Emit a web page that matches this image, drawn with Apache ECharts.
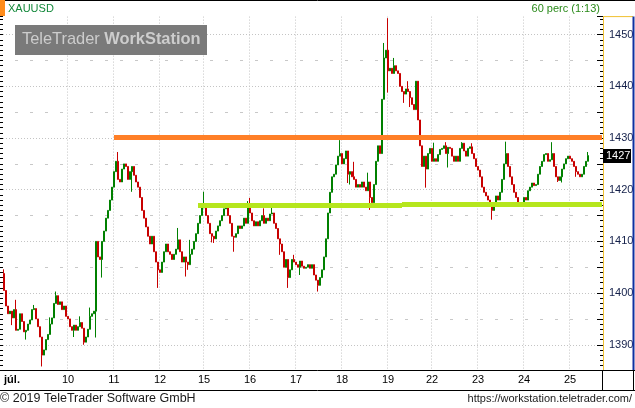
<!DOCTYPE html>
<html><head><meta charset="utf-8">
<script src="https://cdn.jsdelivr.net/npm/echarts@6/dist/echarts.min.js"></script>
<style>html,body{margin:0;padding:0;background:#fff;}#c{width:635px;height:408px;}</style>
</head><body><div id="c"></div>
<script>
// ---- data (XAUUSD, 60-minute candles) ----
const symbolName = 'XAUUSD';
const periodText = '60 perc (1:13)';
const firstOpen = 1403.8;
const closes = [
1400.5,1397.5,1396.0,1396.5,1395.2,1396.8,1392.8,1393.0,1396.0,1394.5,
1392.5,1392.8,1394.0,1394.8,1396.8,1397.0,1395.0,1393.5,1391.5,1388.0,
1389.0,1391.0,1392.0,1394.0,1395.2,1398.0,1399.5,1397.8,1398.3,1396.8,
1397.5,1395.5,1395.0,1393.5,1392.8,1393.8,1392.8,1393.5,1394.3,1393.2,
1390.5,1391.5,1393.0,1395.5,1396.0,1396.5,1410.0,1407.0,1406.5,1410.0,
1412.0,1414.5,1416.0,1418.0,1420.5,1423.5,1425.5,1422.0,1421.5,1424.0,
1425.0,1424.5,1422.0,1423.5,1424.5,1422.8,1421.5,1420.5,1418.5,1416.0,
1414.5,1412.8,1411.0,1409.5,1411.0,1408.0,1406.0,1404.5,1404.0,1406.0,
1408.0,1409.5,1408.0,1407.5,1406.5,1407.5,1408.5,1410.3,1408.0,1406.0,
1407.0,1406.0,1405.5,1407.5,1408.5,1410.0,1411.5,1413.5,1415.0,1416.5,
1417.0,1415.0,1413.5,1411.5,1411.0,1410.5,1412.0,1413.0,1414.0,1415.0,
1416.3,1416.8,1415.0,1413.5,1411.0,1410.8,1411.5,1413.0,1412.5,1413.0,
1414.5,1413.5,1416.5,1415.5,1414.0,1413.0,1413.8,1413.0,1414.0,1415.0,
1413.5,1414.5,1414.0,1415.3,1415.5,1413.5,1412.5,1410.5,1409.5,1408.0,
1405.0,1406.5,1403.0,1404.5,1406.5,1406.0,1405.5,1405.0,1406.2,1405.2,
1404.8,1405.0,1405.5,1404.8,1405.5,1403.5,1402.5,1401.5,1403.0,1404.5,
1407.0,1410.5,1415.5,1419.5,1422.5,1423.0,1424.8,1426.5,1427.0,1425.0,
1426.0,1427.5,1423.0,1423.5,1422.5,1422.0,1420.5,1421.0,1420.5,1421.5,
1420.5,1419.8,1421.5,1418.5,1417.5,1421.0,1425.5,1428.5,1427.0,1437.5,
1445.5,1447.0,1443.0,1443.5,1442.5,1444.0,1443.0,1442.5,1440.0,1439.0,
1438.5,1439.5,1439.0,1437.8,1436.5,1435.5,1441.0,1433.5,1428.5,1424.5,
1426.5,1424.0,1427.0,1428.0,1425.5,1426.0,1425.5,1426.8,1427.8,1428.0,
1428.5,1427.0,1428.2,1428.0,1426.5,1425.5,1426.5,1425.5,1428.0,1429.0,
1427.5,1426.5,1428.0,1428.3,1427.0,1426.0,1424.5,1423.8,1422.5,1420.5,
1419.5,1418.8,1418.0,1417.5,1416.0,1417.5,1418.8,1418.0,1419.5,1422.0,
1425.0,1427.0,1424.5,1422.5,1421.0,1419.5,1418.5,1417.5,1416.8,1417.5,
1418.5,1418.0,1419.8,1420.5,1421.3,1420.8,1421.0,1423.0,1424.5,1425.5,
1426.8,1427.0,1425.5,1425.8,1427.0,1424.5,1422.5,1421.8,1422.5,1424.0,
1425.0,1426.0,1426.5,1426.0,1425.5,1424.5,1423.5,1423.0,1422.5,1423.0,
1424.5,1425.5,1426.6
];
const highWicks = {0:1404.6,6:1398.7,15:1397.7,23:1395.3,26:1400.3,38:1395.5,43:1397.2,57:1427.3,
  87:1412.6,93:1410.3,100:1419.6,122:1417.8,123:1418.4,130:1416.4,134:1416.5,145:1407.4,168:1429.6,
  175:1425.4,182:1423.3,190:1448.4,192:1453.2,195:1445.5,202:1441.0,215:1429.1,221:1429.2,229:1429.2,
  234:1429.0,251:1429.3,274:1429.2,292:1427.3};
const lowWicks = {4:1393.8,11:1391.0,19:1385.8,35:1391.5,40:1390.0,46:1391.4,49:1403.0,64:1419.6,
  77:1401.0,91:1403.2,92:1404.5,104:1409.8,105:1409.7,115:1408.0,131:1413.7,138:1407.4,142:1401.0,
  148:1403.5,157:1400.3,172:1421.3,173:1421.0,183:1416.1,192:1438.8,200:1436.8,203:1436.0,211:1420.4,
  222:1424.3,244:1414.2,258:1416.7,277:1421.5,279:1421.4,286:1422.5};
const dayLabels = ['10','11','12','15','16','17','18','19','22','23','24','25'];
const dayStartIndex = [32,55,78,100,123,146,169,192,214,237,260,283];
const monthLabel = 'júl.';
const monthLabelIndex = 4;
const slotCount = 300;
const yMin = 1385, yMax = 1453.5;
const resistanceLevel = 1430.2, resistanceStart = 55;
const supportLevels = [1416.9, 1417.1];
const supportBreaks = [97, 199, 299];

// ---- build ----
const cats = [];
for (let i = 0; i < slotCount; i++) cats.push('h' + i);
const labelMap = {};
dayStartIndex.forEach((idx, k) => { labelMap[idx] = dayLabels[k]; });
labelMap[monthLabelIndex] = monthLabel;

const ohlc = closes.map((c, i) => {
  const o = i === 0 ? firstOpen : closes[i - 1];
  const hi = Math.max(o, c, highWicks[i] !== undefined ? highWicks[i] : -Infinity);
  const lo = Math.min(o, c, lowWicks[i] !== undefined ? lowWicks[i] : Infinity);
  return [o, c, lo, hi];
});

const tickVals = [];
for (let v = yMin; v <= 1450; v += 5) tickVals.push(v);
tickVals.push(yMax);
const dottedColors = tickVals.map(v => (v % 10 === 0 ? '#c4c4c4' : 'rgba(0,0,0,0)'));
const dashedColors = tickVals.map(v => (v % 10 === 5 ? '#c8c8c8' : 'rgba(0,0,0,0)'));

const FONT = 'Liberation Sans';
const chart = echarts.init(document.getElementById('c'), null, {renderer: 'canvas'});
const baseY = (extra) => Object.assign({
  type: 'value', min: yMin, max: yMax, scale: true,
  axisLine: {show: false}, axisLabel: {show: false}, splitLine: {show: false}, axisTick: {show: false}
}, extra);

const option = {
  animation: false,
  backgroundColor: '#ffffff',
  textStyle: {fontFamily: FONT},
  grid: {left: 3, right: 32, top: 16.6, bottom: 37.4, outerBoundsMode: 'none', containLabel: false},
  xAxis: {
    type: 'category', data: cats, boundaryGap: true,
    axisLine: {show: false}, axisTick: {show: false},
    axisLabel: {
      interval: (i) => labelMap[i] !== undefined,
      formatter: (v, i) => (i === monthLabelIndex ? '{b|' + labelMap[i] + '}' : (labelMap[i] || '')),
      color: '#000', fontSize: 11, margin: 4, fontFamily: FONT,
      rich: {b: {fontWeight: 'bold', fontSize: 11, color: '#000', fontFamily: FONT}}
    },
    splitLine: {show: true, interval: (i) => dayStartIndex.indexOf(i) >= 0,
      lineStyle: {color: '#c4c4c4', type: [1, 2], width: 1}}
  },
  yAxis: [
    baseY({position: 'right',
      interval: 5,
      axisTick: {show: true, inside: true, length: 6, lineStyle: {color: '#000'}},
      axisLabel: {show: true, formatter: (v) => (v % 10 === 0 ? String(v) : ''), color: '#14204a',
        fontSize: 11, margin: 6, fontFamily: FONT},
      splitLine: {show: true, lineStyle: {color: dottedColors, type: [1, 2], width: 1}}}),
    baseY({position: 'right', interval: 1,
      axisTick: {show: true, inside: true, length: 3, lineStyle: {color: '#000'}}}),
    baseY({position: 'left', interval: 1,
      axisTick: {show: true, inside: false, length: 3, lineStyle: {color: '#000'}}}),
    baseY({position: 'left', interval: 5,
      splitLine: {show: true, lineStyle: {color: dashedColors, type: [3, 12], dashOffset: 3, width: 1}}})
  ],
  series: [{
    type: 'candlestick',
    data: ohlc,
    yAxisIndex: 0,
    barWidth: 2.2,
    large: false,
    itemStyle: {color: '#008000', color0: '#c80000', borderColor: '#008000', borderColor0: '#c80000',
      borderColorDoji: '#008000', borderWidth: 1},
    markLine: {
      silent: true, symbol: ['none', 'none'], animation: false, label: {show: false},
      emphasis: {disabled: true},
      data: [
        [{coord: [cats[resistanceStart], resistanceLevel], lineStyle: {color: '#ff7f27', width: 5, type: 'solid'}},
         {coord: [cats[slotCount - 1], resistanceLevel]}],
        [{coord: [cats[supportBreaks[0]], supportLevels[0]], lineStyle: {color: '#b5e61d', width: 5, type: 'solid'}},
         {coord: [cats[supportBreaks[1]], supportLevels[0]]}],
        [{coord: [cats[supportBreaks[1]], supportLevels[1]], lineStyle: {color: '#b5e61d', width: 5, type: 'solid'}},
         {coord: [cats[supportBreaks[2]], supportLevels[1]]}]
      ]
    }
  }]
};
chart.setOption(option);

const lastClose = closes[closes.length - 1];
const yLast = chart.convertToPixel({yAxisIndex: 0}, lastClose);
const ln = (x1, y1, x2, y2, color, w) => ({type: 'line', z: 100, silent: true,
  shape: {x1, y1, x2, y2}, style: {stroke: color, lineWidth: w || 1}});
chart.setOption({graphic: [
  ln(0, 0.5, 635, 0.5, '#000'),
  {type: 'rect', z: 100, shape: {x: 0, y: 0, width: 5, height: 16}, style: {fill: '#ff8c1a'}},
  {type: 'text', z: 100, left: 8, top: 3, style: {text: symbolName, fill: '#12883a', font: '11px "Liberation Sans"'}},
  {type: 'text', z: 100, right: 35, top: 3, style: {text: periodText, fill: '#2a8a1a', font: '11px "Liberation Sans"'}},
  {type: 'rect', z: 90, shape: {x: 15, y: 25, width: 192, height: 30}, style: {fill: '#7a7a7a'}},
  {type: 'text', z: 91, left: 22, top: 31, style: {
    text: '{r|TeleTrader }{b|WorkStation}', fill: '#cdcdcd',
    rich: {r: {font: '16.4px "Liberation Sans"', fill: '#cdcdcd'}, b: {font: 'bold 16.4px "Liberation Sans"', fill: '#cdcdcd'}}}},
  ln(603.5, 16.6, 603.5, 370.5, '#f0c030'),
  ln(603, 16.6, 633, 16.6, '#f0c030'),
  ln(633.5, 16.6, 633.5, 370.5, '#1030a0', 2),
  ln(0, 370.5, 635, 370.5, '#000'),
  ln(0, 390.5, 635, 390.5, '#000'),
  ln(602.5, 370.5, 602.5, 390.5, '#000'),
  ln(633.5, 370.5, 633.5, 390.5, '#000'),
  {type: 'rect', z: 100, shape: {x: 603, y: Math.round(yLast) - 7, width: 28, height: 14}, style: {fill: '#000'}},
  {type: 'text', z: 101, left: 606, top: Math.round(yLast) - 6, style: {text: String(Math.round(lastClose)), fill: '#fff', font: '11px "Liberation Sans"'}},
  {type: 'text', z: 100, left: 0, top: 392, style: {text: '© 2019 TeleTrader Software GmbH', fill: '#1a1a1a', font: '12.5px "Liberation Sans"'}},
  {type: 'text', z: 100, right: 3, top: 393, style: {text: 'https://workstation.teletrader.com/', fill: '#1a1a1a', font: '11px "Liberation Sans"'}}
]});
</script></body></html>
